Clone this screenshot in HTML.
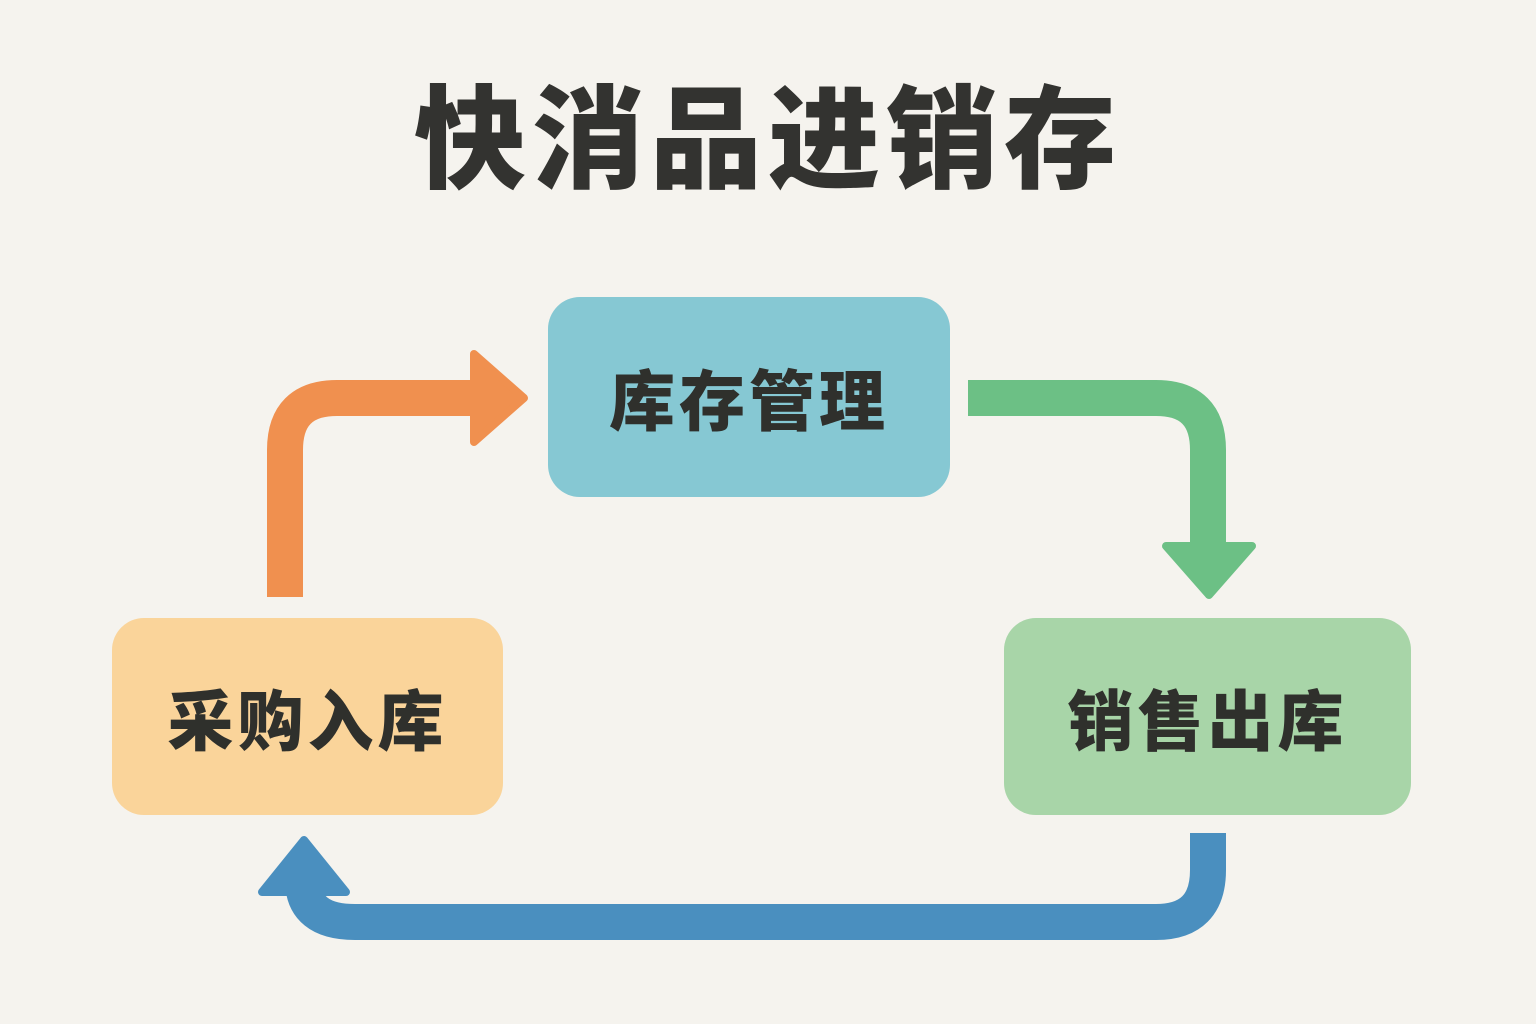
<!DOCTYPE html>
<html><head><meta charset="utf-8"><style>
html,body{margin:0;padding:0;background:#f5f3ee;}
.wrap{position:relative;width:1536px;height:1024px;overflow:hidden;background:#f5f3ee;font-family:"Liberation Sans","Noto Sans CJK SC",sans-serif;}
.title{position:absolute;left:0;width:1536px;top:66px;text-align:center;font-size:112px;font-weight:900;color:#333330;letter-spacing:6px;line-height:150px;}
.box{position:absolute;border-radius:32px;display:flex;align-items:center;justify-content:center;font-size:66px;font-weight:900;color:#2f302c;letter-spacing:4px;}
</style></head><body><div class="wrap">
<div class="title">快消品进销存</div>
<svg width="1536" height="1024" style="position:absolute;left:0;top:0">
<g fill="none" stroke-width="36" stroke-linecap="butt">
<path d="M285 597 V450 Q285 398 337 398 H475" stroke="#f0904f"/>
<path d="M968 398 H1156 Q1208 398 1208 450 V550" stroke="#6cc085"/>
<path d="M1208 833 V870 Q1208 922 1156 922 H355 Q303 922 303 880" stroke="#4a8fbf"/>
</g>
<polygon points="474,354 524,398 474,442" fill="#f0904f" stroke="#f0904f" stroke-width="8" stroke-linejoin="round"/>
<polygon points="1166,546 1252,546 1209,595" fill="#6cc085" stroke="#6cc085" stroke-width="8" stroke-linejoin="round"/>
<polygon points="262,892 346,892 304,840" fill="#4a8fbf" stroke="#4a8fbf" stroke-width="8" stroke-linejoin="round"/>
</svg>
<div class="box" style="left:548px;top:297px;width:402px;height:200px;background:#86c8d3;">库存管理</div>
<div class="box" style="left:112px;top:618px;width:391px;height:197px;background:#fad49a;">采购入库</div>
<div class="box" style="left:1004px;top:618px;width:407px;height:197px;background:#a8d5a8;">销售出库</div>
</div></body></html>
